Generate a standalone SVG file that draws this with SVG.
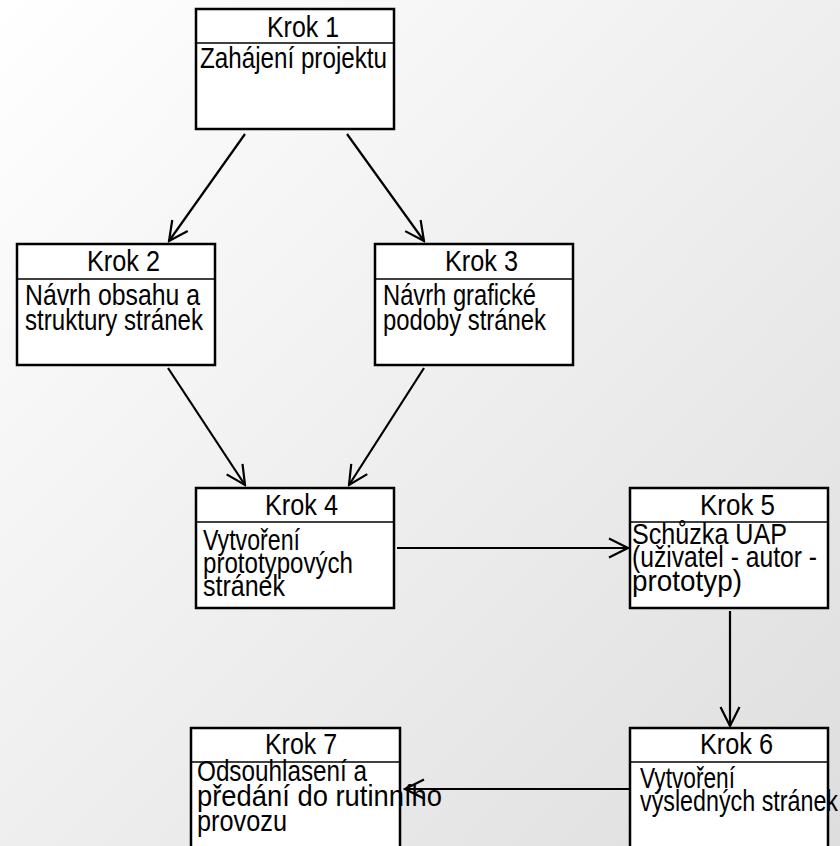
<svg xmlns="http://www.w3.org/2000/svg" width="840" height="846" viewBox="0 0 840 846">
<defs>
<linearGradient id="bg" x1="0" y1="0" x2="1" y2="1">
<stop offset="0" stop-color="#ffffff"/>
<stop offset="1" stop-color="#dedede"/>
</linearGradient>
<marker id="arr" viewBox="0 0 22 22" refX="20" refY="11" markerWidth="22" markerHeight="22" markerUnits="userSpaceOnUse" orient="auto">
<path d="M1,1.5 L20,11 L1,20.5" fill="none" stroke="#000" stroke-width="2.2"/>
</marker>
<style>
.box{fill:#fff;stroke:#000;stroke-width:2.5}
.sep{stroke:#000;stroke-width:1.5}
.t{font-family:"Liberation Sans",Arial,sans-serif;font-size:29px;fill:#000}
.c{fill:none;stroke:#000;stroke-width:2.2}
</style>
</defs>
<rect x="0" y="0" width="840" height="846" fill="url(#bg)"/>
<g id="connectors">
<line class="c" x1="245" y1="134" x2="169" y2="241" marker-end="url(#arr)"/>
<line class="c" x1="347" y1="134" x2="424" y2="241" marker-end="url(#arr)"/>
<line class="c" x1="168" y1="368" x2="245" y2="485" marker-end="url(#arr)"/>
<line class="c" x1="424" y1="368" x2="349" y2="485" marker-end="url(#arr)"/>
<line class="c" x1="397" y1="548" x2="628" y2="548" marker-end="url(#arr)"/>
<line class="c" x1="730" y1="611" x2="730" y2="726" marker-end="url(#arr)"/>
<line class="c" x1="630" y1="789" x2="405" y2="789" marker-end="url(#arr)"/>
</g>
<g id="krok1">
<rect class="box" x="196" y="9" width="198" height="120"/>
<line class="sep" x1="196" y1="43" x2="394" y2="43"/>
<text class="t" x="267" y="37" textLength="72" lengthAdjust="spacingAndGlyphs">Krok 1</text>
<text class="t" x="200" y="68" textLength="187" lengthAdjust="spacingAndGlyphs">Zahájení projektu</text>
</g>
<g id="krok2">
<rect class="box" x="17" y="244" width="198" height="121"/>
<line class="sep" x1="17" y1="279" x2="215" y2="279"/>
<text class="t" x="87" y="271" textLength="73" lengthAdjust="spacingAndGlyphs">Krok 2</text>
<text class="t" x="25" y="305" textLength="175" lengthAdjust="spacingAndGlyphs">Návrh obsahu a</text>
<text class="t" x="25" y="330" textLength="178" lengthAdjust="spacingAndGlyphs">struktury stránek</text>
</g>
<g id="krok3">
<rect class="box" x="375" y="244" width="198" height="121"/>
<line class="sep" x1="375" y1="279" x2="573" y2="279"/>
<text class="t" x="445" y="271" textLength="73" lengthAdjust="spacingAndGlyphs">Krok 3</text>
<text class="t" x="383" y="305" textLength="153" lengthAdjust="spacingAndGlyphs">Návrh grafické</text>
<text class="t" x="383" y="330" textLength="163" lengthAdjust="spacingAndGlyphs">podoby stránek</text>
</g>
<g id="krok4">
<rect class="box" x="196" y="488" width="198" height="120"/>
<line class="sep" x1="196" y1="522" x2="394" y2="522"/>
<text class="t" x="265" y="515" textLength="73" lengthAdjust="spacingAndGlyphs">Krok 4</text>
<text class="t" x="203" y="550" textLength="97" lengthAdjust="spacingAndGlyphs">Vytvoření</text>
<text class="t" x="203" y="573" textLength="150" lengthAdjust="spacingAndGlyphs">prototypových</text>
<text class="t" x="203" y="596" textLength="82" lengthAdjust="spacingAndGlyphs">stránek</text>
</g>
<g id="krok5">
<rect class="box" x="630" y="488" width="198" height="120"/>
<line class="sep" x1="630" y1="522" x2="828" y2="522"/>
<text class="t" x="700" y="515" textLength="75" lengthAdjust="spacingAndGlyphs">Krok 5</text>
<text class="t" x="632" y="544" textLength="155" lengthAdjust="spacingAndGlyphs">Schůzka UAP</text>
<text class="t" x="632" y="567" textLength="185" lengthAdjust="spacingAndGlyphs">(uživatel - autor -</text>
<text class="t" x="632" y="591" textLength="110" lengthAdjust="spacingAndGlyphs">prototyp)</text>
</g>
<g id="krok6">
<rect class="box" x="630" y="728" width="198" height="130"/>
<line class="sep" x1="630" y1="762" x2="828" y2="762"/>
<text class="t" x="700" y="754" textLength="73" lengthAdjust="spacingAndGlyphs">Krok 6</text>
<text class="t" x="640" y="788" textLength="95" lengthAdjust="spacingAndGlyphs">Vytvoření</text>
<text class="t" x="640" y="811" textLength="198" lengthAdjust="spacingAndGlyphs">výsledných stránek</text>
</g>
<g id="krok7">
<rect class="box" x="191" y="728" width="209" height="130"/>
<line class="sep" x1="191" y1="762" x2="400" y2="762"/>
<text class="t" x="265" y="754" textLength="72" lengthAdjust="spacingAndGlyphs">Krok 7</text>
<text class="t" x="197" y="781" textLength="170" lengthAdjust="spacingAndGlyphs">Odsouhlasení a</text>
<text class="t" x="197" y="806" textLength="245" lengthAdjust="spacingAndGlyphs">předání do rutinního</text>
<text class="t" x="197" y="831" textLength="90" lengthAdjust="spacingAndGlyphs">provozu</text>
</g>
</svg>
